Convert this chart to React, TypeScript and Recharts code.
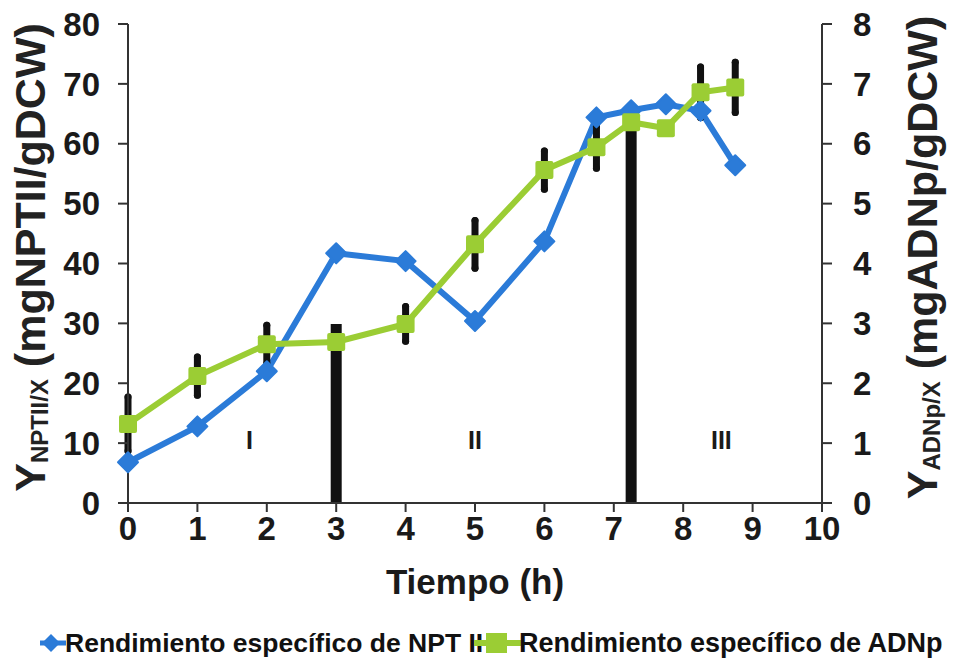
import { ComposedChart, Line, XAxis, YAxis, ErrorBar, ReferenceDot } from 'recharts'

// tiempo de cultivo (h)
const tiempo = [0, 1, 2, 3, 4, 5, 6, 6.75, 7.25, 7.75, 8.25, 8.75]
// rendimiento específico de NPT II (mg/gDCW), eje izquierdo
const rendNPT = [6.8, 12.8, 22.0, 41.7, 40.4, 30.4, 43.7, 64.4, 65.6, 66.6, 65.5, 56.4]
// rendimiento específico de ADNp (mg/gDCW), eje derecho
const rendADNp = [1.32, 2.12, 2.65, 2.69, 2.99, 4.32, 5.56, 5.94, 6.36, 6.26, 6.86, 6.94]
const errADNp = [0.45, 0.32, 0.32, 0.3, 0.29, 0.4, 0.32, 0.35, 0.25, 0, 0.42, 0.42]
// límites entre fases
const divisores = [3, 7.25]
const fases = ['I', 'II', 'III']
const fasesX = [1.75, 5, 8.55]
const fasesY = 10.5

const ticksX = [0, 1, 2, 3, 4, 5, 6, 7, 8, 9, 10]
const ticksIzq = [0, 10, 20, 30, 40, 50, 60, 70, 80]
const ticksDer = [0, 1, 2, 3, 4, 5, 6, 7, 8]

const AZUL = '#2b7bd8'
const VERDE = '#9bcd34'
const FONT = '"Liberation Sans", Arial, sans-serif'

const data = tiempo.map((t, i) => {
  const esDivisor = divisores.includes(t)
  return {
    t,
    npt: rendNPT[i],
    adn: rendADNp[i],
    err: !esDivisor && errADNp[i] ? errADNp[i] : null,
    fase: esDivisor ? [rendADNp[i], errADNp[i]] : null,
  }
})

function Diamante(props: any) {
  const { cx, cy, index } = props
  if (cx == null || cy == null) return null
  const r = 10
  return (
    <polygon
      key={`d-${index}`}
      points={`${cx},${cy - r} ${cx + r},${cy} ${cx},${cy + r} ${cx - r},${cy}`}
      fill={AZUL}
      stroke={AZUL}
      strokeWidth={2}
      strokeLinejoin="round"
    />
  )
}

function Cuadro(props: any) {
  const { cx, cy, index } = props
  if (cx == null || cy == null) return null
  const s = 18
  return <rect key={`c-${index}`} x={cx - s / 2} y={cy - s / 2} width={s} height={s} fill={VERDE} rx={2} />
}

function EtiquetaY({ viewBox, cx, sub, unidad }: any) {
  const cy = viewBox.y + viewBox.height / 2 - 6
  const rot = `rotate(-90, ${cx}, ${cy})`
  return (
    <text x={cx} y={cy} transform={rot} textAnchor="middle" dominantBaseline="central" fontFamily={FONT} fontWeight="bold" fontSize={43} fill="#222">
      Y
      <tspan fontSize={24} dy={9}>{sub}</tspan>
      <tspan dy={-9}> {unidad}</tspan>
    </text>
  )
}

function EtiquetaX({ viewBox }: any) {
  return (
    <text x={viewBox.x + viewBox.width / 2} y={viewBox.y + 91} textAnchor="middle" fontFamily={FONT} fontWeight="bold" fontSize={35} fill="#1a1a1a">
      Tiempo (h)
    </text>
  )
}

function Leyenda() {
  const txt = { fontFamily: FONT, fontWeight: 'bold' as const, fill: '#111' }
  return (
    <svg width={955} height={40} style={{ position: 'absolute', left: 0, top: 624 }}>
      <line x1={40} x2={66} y1={19} y2={19} stroke={AZUL} strokeWidth={5} />
      <polygon points="51,10 60,19 51,28 42,19" fill={AZUL} />
      <text x={65} y={28} fontSize={26.5} {...txt}>Rendimiento específico de NPT II</text>
      <line x1={474} x2={521} y1={19} y2={19} stroke={VERDE} strokeWidth={6} />
      <rect x={486} y={9} width={21} height={20} fill={VERDE} />
      <text x={519} y={28} fontSize={27} {...txt}>Rendimiento específico de ADNp</text>
    </svg>
  )
}

export default function App() {
  const tickStyle = { fontFamily: FONT, fontWeight: 'bold', fontSize: 33, fill: '#1a1a1a' }
  const eje = { stroke: '#333', strokeWidth: 2 }
  return (
    <div style={{ position: 'absolute', left: 0, top: 0, width: 955, height: 665, background: '#fff' }}>
      <ComposedChart width={955} height={665} data={data} margin={{ top: 24, right: 33, bottom: 102, left: 28 }}>
        <XAxis
          dataKey="t"
          type="number"
          domain={[0, 10]}
          ticks={ticksX}
          interval={0}
          height={60}
          axisLine={eje}
          tickLine={eje}
          tickSize={9}
          tickMargin={5}
          tick={tickStyle}
          label={<EtiquetaX />}
        />
        <YAxis
          yAxisId="izq"
          domain={[0, 80]}
          ticks={ticksIzq}
          interval={0}
          width={100}
          axisLine={eje}
          tickLine={eje}
          tickSize={10}
          tickMargin={18}
          tick={tickStyle}
          label={<EtiquetaY cx={30} sub="NPTII/X" unidad="(mgNPTII/gDCW)" />}
        />
        <YAxis
          yAxisId="der"
          orientation="right"
          domain={[0, 8]}
          ticks={ticksDer}
          interval={0}
          width={100}
          axisLine={eje}
          tickLine={eje}
          tickSize={10}
          tickMargin={21}
          tick={tickStyle}
          label={<EtiquetaY cx={922} sub="ADNp/X" unidad="(mgADNp/gDCW)" />}
        />
        <Line
          yAxisId="izq"
          dataKey="npt"
          name="Rendimiento específico de NPT II"
          stroke={AZUL}
          strokeWidth={6}
          dot={Diamante}
          activeDot={false}
          isAnimationActive={false}
        />
        <Line
          yAxisId="der"
          dataKey="adn"
          name="Rendimiento específico de ADNp"
          stroke={VERDE}
          strokeWidth={6}
          dot={Cuadro}
          activeDot={false}
          isAnimationActive={false}
        >
          <ErrorBar dataKey="err" width={0} stroke="#111" strokeWidth={7} strokeLinecap="round" />
          <ErrorBar dataKey="fase" width={0} stroke="#111" strokeWidth={11} />
        </Line>
        {fases.map((f, i) => (
          <ReferenceDot
            key={f}
            yAxisId="izq"
            x={fasesX[i]}
            y={fasesY}
            r={0}
            label={{ value: f, position: 'center', style: { fontFamily: FONT, fontWeight: 'bold', fontSize: 25, fill: '#1a1a1a' } }}
          />
        ))}
      </ComposedChart>
      <Leyenda />
    </div>
  )
}
